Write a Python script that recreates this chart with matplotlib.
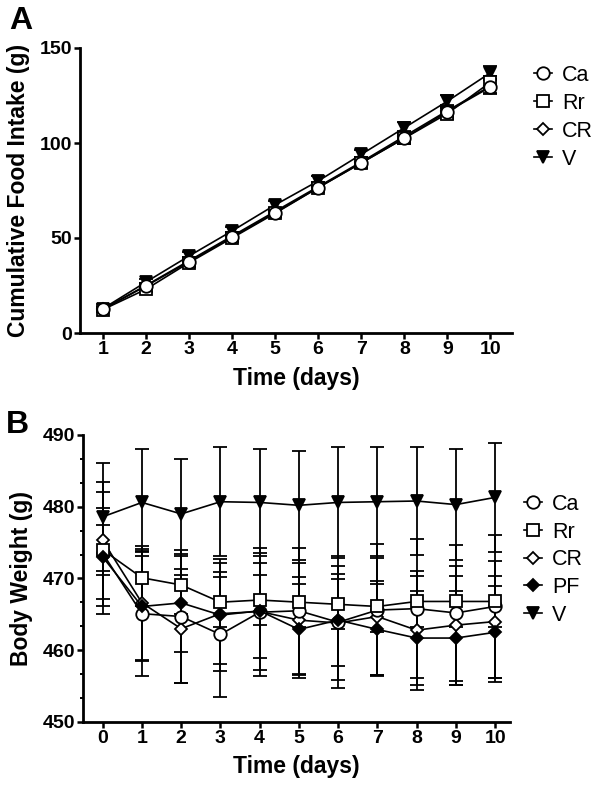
import matplotlib
matplotlib.use("Agg")
import matplotlib.pyplot as plt
from matplotlib.lines import Line2D
from matplotlib.ticker import AutoMinorLocator

plt.rcParams['font.family'] = ['Liberation Sans', 'DejaVu Sans']

# ---------------- Panel A data ----------------
days_a = [1, 2, 3, 4, 5, 6, 7, 8, 9, 10]
a_ca = [12.5, 24.7, 37.5, 50.5, 63.3, 76.5, 89.5, 102.6, 116.5, 129.5]
a_rr = [12.3, 23.0, 37.0, 50.0, 63.0, 76.5, 89.5, 102.5, 115.5, 132.0]
a_cr = [12.5, 25.0, 38.0, 51.0, 64.0, 77.0, 90.0, 103.5, 117.0, 130.0]
a_v = [12.8, 26.8, 40.5, 53.7, 67.4, 80.0, 94.0, 108.0, 122.0, 137.0]
a_err = [1.0, 1.5, 2.0, 2.0, 2.0, 2.5, 2.5, 3.0, 3.0, 3.5]

# ---------------- Panel B data ----------------
days_b = [0, 1, 2, 3, 4, 5, 6, 7, 8, 9, 10]
b_ca = [473.5, 465.1, 464.7, 462.2, 465.3, 465.5, 463.9, 465.6, 465.8, 465.2, 466.1]
b_ca_err = [8.5, 8.7, 9.3, 8.7, 8.9, 8.8, 9.2, 9.2, 9.7, 9.5, 10.0]
b_rr = [474.0, 470.1, 469.1, 466.7, 467.0, 466.7, 466.4, 466.1, 466.8, 466.8, 466.8]
b_rr_err = [3.5, 4.0, 4.0, 3.5, 3.5, 3.5, 3.5, 3.5, 3.5, 3.5, 3.5]
b_cr = [475.3, 466.6, 463.0, 465.1, 465.4, 464.2, 463.8, 464.7, 462.8, 463.5, 464.0]
b_cr_err = [8.2, 7.9, 7.5, 7.0, 8.2, 8.0, 8.0, 8.2, 8.3, 8.3, 8.4]
b_pf = [473.0, 466.1, 466.6, 464.9, 465.5, 462.9, 464.2, 462.9, 461.7, 461.7, 462.5]
b_pf_err = [6.8, 7.6, 6.8, 7.8, 6.6, 6.4, 6.4, 6.4, 6.5, 6.6, 6.4]
b_v = [478.6, 480.6, 479.0, 480.7, 480.6, 480.2, 480.6, 480.7, 480.8, 480.3, 481.3]
b_v_err = [7.5, 7.4, 7.7, 7.6, 7.5, 7.6, 7.7, 7.6, 7.5, 7.7, 7.6]

a_ticks_y = [0, 50, 100, 150]
b_ticks_y = [450, 460, 470, 480, 490]

styles = {
    'Ca': dict(marker='o', mfc='white', ms=9.0),
    'Rr': dict(marker='s', mfc='white', ms=8.4),
    'CR': dict(marker='D', mfc='white', ms=6.4),
    'PF': dict(marker='D', mfc='black', ms=6.4),
    'V': dict(marker='v', mfc='black', ms=9.0),
}

fig = plt.figure(figsize=(6, 7.88), dpi=100)
W, H = 600, 788


def make_ax(l, r, t, b):
    return fig.add_axes([l / W, 1 - b / H, (r - l) / W, (b - t) / H])


def style_ax(ax):
    for s in ['top', 'right']:
        ax.spines[s].set_visible(False)
    for s in ['left', 'bottom']:
        ax.spines[s].set_linewidth(2.0)
    ax.tick_params(axis='both', which='major', direction='out', length=4, width=1.8,
                   labelsize=14, pad=1.5)
    ax.tick_params(axis='both', which='minor', direction='out', length=2.5, width=1.4)
    for lab in ax.get_xticklabels() + ax.get_yticklabels():
        lab.set_fontweight('bold')


def draw_series(ax, x, y, err, name, z):
    st = styles[name]
    ax.errorbar(x, y, yerr=err, fmt='none', ecolor='black', elinewidth=1.3,
                capsize=5, capthick=1.3, zorder=2)
    ax.plot(x, y, color='black', lw=1.2, marker=st['marker'], ms=st['ms'],
            mfc=st['mfc'], mec='black', mew=1.3, zorder=z)


def legend_handles(names):
    hs = []
    for n in names:
        st = styles[n]
        hs.append(Line2D([0], [0], color='black', lw=1.2, marker=st['marker'], ms=st['ms'],
                         mfc=st['mfc'], mec='black', mew=1.3))
    return hs


# ---------------- Panel A ----------------
axA = make_ax(80, 512, 48, 333)
draw_series(axA, days_a, a_v, a_err, 'V', 3)
draw_series(axA, days_a, a_cr, a_err, 'CR', 4)
draw_series(axA, days_a, a_rr, a_err, 'Rr', 5)
draw_series(axA, days_a, a_ca, a_err, 'Ca', 6)
axA.set_xlim(0.47, 10.5)
axA.set_ylim(0, 150)
axA.set_xticks(days_a)
axA.set_yticks(a_ticks_y)
style_ax(axA)
axA.set_xlabel('Time (days)', fontsize=16.5, fontweight='bold', labelpad=7)
axA.set_ylabel('Cumulative Food Intake (g)', fontsize=16.5, fontweight='bold', labelpad=7)
fig.text(9 / W, 1 - 6 / H, 'A', fontsize=23, fontweight='bold', va='top', ha='left')

namesA = ['Ca', 'Rr', 'CR', 'V']
axA.legend(legend_handles(namesA), namesA, loc='upper left',
           bbox_to_anchor=(534 / W, 1 - 65 / H), bbox_transform=fig.transFigure,
           frameon=False, handlelength=0.85, handletextpad=0.45, labelspacing=0.32,
           fontsize=15.5, borderpad=0, borderaxespad=0)

# ---------------- Panel B ----------------
axB = make_ax(82.5, 510, 435, 722)
draw_series(axB, days_b, b_v, b_v_err, 'V', 3)
draw_series(axB, days_b, b_cr, b_cr_err, 'CR', 4)
draw_series(axB, days_b, b_ca, b_ca_err, 'Ca', 5)
draw_series(axB, days_b, b_rr, b_rr_err, 'Rr', 6)
draw_series(axB, days_b, b_pf, b_pf_err, 'PF', 7)
axB.set_xlim(-0.515, 10.38)
axB.set_ylim(450, 490)
axB.set_xticks(days_b)
axB.set_yticks(b_ticks_y)
axB.yaxis.set_minor_locator(AutoMinorLocator(3))
style_ax(axB)
axB.set_xlabel('Time (days)', fontsize=16.5, fontweight='bold', labelpad=6)
axB.set_ylabel('Body Weight (g)', fontsize=16.5, fontweight='bold', labelpad=7)
fig.text(6 / W, 1 - 410 / H, 'B', fontsize=23, fontweight='bold', va='top', ha='left')

namesB = ['Ca', 'Rr', 'CR', 'PF', 'V']
axB.legend(legend_handles(namesB), namesB, loc='upper left',
           bbox_to_anchor=(524 / W, 1 - 494 / H), bbox_transform=fig.transFigure,
           frameon=False, handlelength=0.85, handletextpad=0.45, labelspacing=0.31,
           fontsize=15.5, borderpad=0, borderaxespad=0)

fig.savefig('out.png', dpi=100)
